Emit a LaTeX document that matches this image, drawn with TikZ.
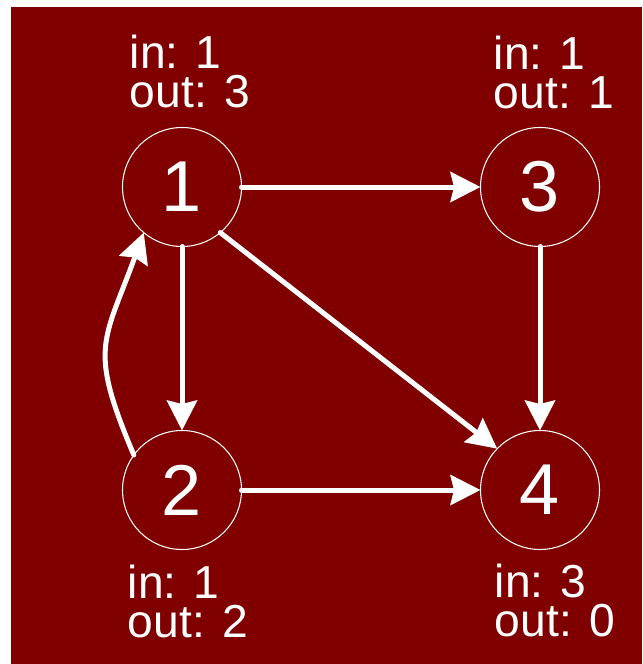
\documentclass[tikz,border=0pt]{standalone}
\definecolor{bgred}{rgb}{0.50,0.0,0.0}
\usepackage{fontspec}
\setmainfont{Liberation Sans}
\usepackage{tikz}
\usetikzlibrary{arrows.meta,positioning}

\begin{document}
\begin{tikzpicture}[
      vert/.style={draw=white, circle, line width=0.6pt, outer sep=0pt,
                   minimum size=2.38cm, inner sep=0pt, text=white,
                   font=\fontsize{41}{49}\selectfont},
      deg/.style={anchor=south west, inner sep=0pt, align=left, text=white,
                  font=\fontsize{26.3}{21.8}\selectfont},
      arr/.style={-{Stealth[length=0.6cm, width=0.6cm, inset=0.07cm]},
                  line width=0.1cm, line cap=round, draw=white}
  ]
    \useasboundingbox (0,0) rectangle (12.84,-13.28);
    \fill[bgred] (0.22,-0.14) rectangle (12.84,-13.28);

    \node[vert] (n1) at (3.64,-3.74) {1};
    \node[vert, right=4.78cm of n1] (n3) {3};
    \node[vert, below=3.68cm of n1] (n2) {2};
    \node[vert, right=4.78cm of n2] (n4) {4};

    \node[deg] (d1) at ([shift={(-1.05,1.58)}]n1.center) {in: 1\\out: 3};
    \node[deg] (d3) at ([shift={(-0.93,1.56)}]n3.center) {in: 1\\out: 1};
    \node[deg] (d2) at ([shift={(-1.09,-2.96)}]n2.center) {in: 1\\out: 2};
    \node[deg] (d4) at ([shift={(-0.91,-2.94)}]n4.center) {in: 3\\out: 0};

    \draw[arr] (n1)--(n3);
    \draw[arr] (n1)--(n2);
    \draw[arr] (n1.-50)--(n4.136);
    \draw[arr] (n3)--(n4);
    \draw[arr] (n2)--(n4);
    \draw[arr] (n2.144) to[out=113, in=250, looseness=1.35] (n1.230);
  \end{tikzpicture}
\end{document}
